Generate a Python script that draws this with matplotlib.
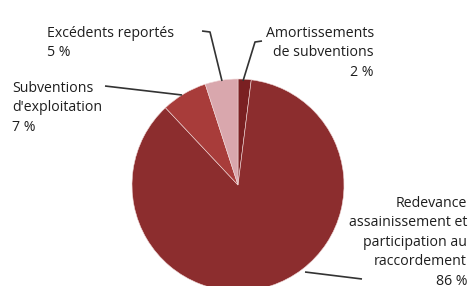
import matplotlib
matplotlib.use("Agg")
import matplotlib.pyplot as plt

# Data
labels = ["Amortissements\nde subventions\n2 %",
          "Redevance\nassainissement et\nparticipation au\nraccordement\n86 %",
          "Subventions\nd'exploitation\n7 %",
          "Excédents reportés\n5 %"]
values = [2, 86, 7, 5]
colors = ["#7a2022", "#8c2d2e", "#a83c3a", "#d9a7ad"]

W, H = 469, 286
fig = plt.figure(figsize=(W / 100, H / 100), dpi=100)
ax = fig.add_axes([0, 0, 1, 1])

cx, cy, r = 238, H - 185, 106
ax.pie(values, colors=colors, startangle=90, counterclock=False,
       center=(cx, cy), radius=r, frame=True,
       wedgeprops=dict(edgecolor="#f0d8d8", linewidth=0.4))
ax.set_xlim(0, W)
ax.set_ylim(0, H)
ax.set_aspect("equal")
ax.axis("off")

# leader lines (pixel coords, y from top)
leaders = [
    [(243, 81), (255, 42), (262, 41)],
    [(305, 272), (362, 279)],
    [(182, 95), (105, 86)],
    [(222, 81), (210, 32), (202, 31)],
]
for pts in leaders:
    xs = [p[0] for p in pts]
    ys = [H - p[1] for p in pts]
    ax.plot(xs, ys, color="#333333", lw=1.2, solid_capstyle="butt")

font = dict(family="Open Sans", fontsize=10.2, color="#1e1e1e", linespacing=1.4)
ax.text(374, H - 26, labels[0], ha="right", va="top", **font)
ax.text(467, H - 196, labels[1], ha="right", va="top", **font)
ax.text(12, H - 81, labels[2], ha="left", va="top", **font)
ax.text(47, H - 26, labels[3], ha="left", va="top", **font)

fig.savefig("out.png", dpi=100)
